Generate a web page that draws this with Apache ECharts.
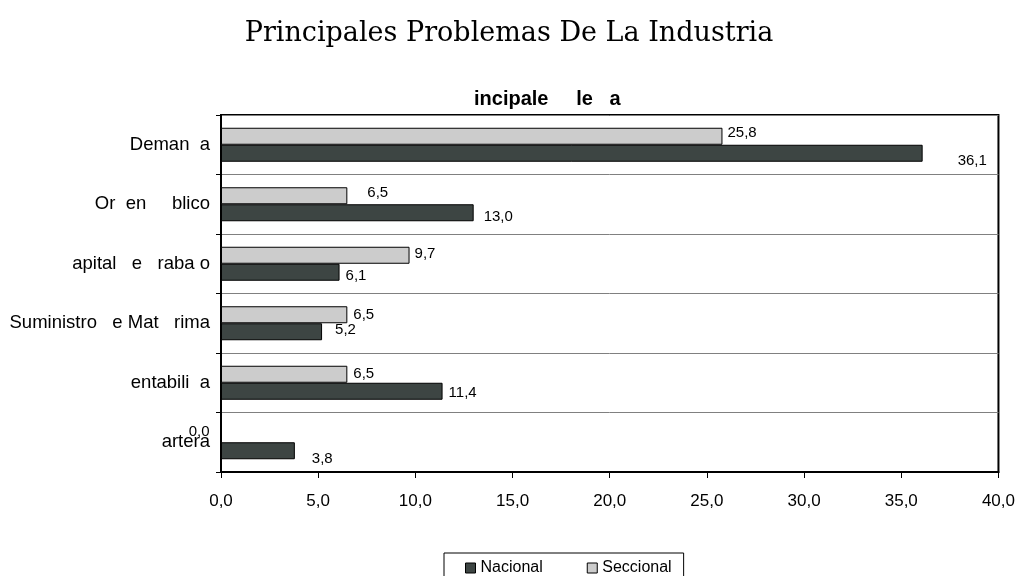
<!DOCTYPE html>
<html>
<head>
<meta charset="utf-8">
<script src="https://cdn.jsdelivr.net/npm/echarts@6/dist/echarts.min.js"></script>
<style>
  html, body { margin: 0; padding: 0; background: #fff; }
  #chart { width: 1018px; height: 576px; }
</style>
</head>
<body>
<div id="chart"></div>
<script>
// Category labels (as printed on the chart)
const categories = ['Deman  a', 'Or  en     blico', 'apital   e   raba o', 'Suministro   e Mat   rima', 'entabili  a', 'artera'];
// Survey shares, percent
const nacional = [36.1, 13.0, 6.1, 5.2, 11.4, 3.8];
const seccional = [25.8, 6.5, 9.7, 6.5, 6.5, 0.0];
const xTicks = { min: 0, max: 40, step: 5 };

// Per-bar nudges for the value labels [dx, dy]
const nacShift = [[30, 8], [5, 4], [1, 4], [8, -2], [1, 2], [12, 8]];
const secShift = [[0, -3], [15, -3], [0, -1], [1, 0], [1, 0], [-6, -2]];

const fmt = v => Number(v).toFixed(1).replace('.', ',');

function buildData(values, shifts) {
  return values.map((v, i) => ({
    value: v,
    label: {
      position: v === 0 ? 'left' : 'right',
      offset: shifts[i]
    }
  }));
}

const labelStyle = {
  show: true,
  distance: 5,
  color: '#000',
  fontFamily: 'Liberation Sans, Arial, sans-serif',
  fontSize: 15,
  formatter: p => fmt(p.value)
};

const chart = echarts.init(document.getElementById('chart'), null, { renderer: 'canvas' });
chart.setOption({
  backgroundColor: '#fff',
  animation: false,
  title: [
    {
      text: 'Principales Problemas De La Industria',
      left: 'center',
      top: 15,
      textStyle: { fontFamily: 'DejaVu Serif, serif', fontSize: 27, fontWeight: 'normal', color: '#000' }
    },
    {
      text: 'incipale     le   a',
      left: 469,
      top: 84,
      textStyle: { fontFamily: 'Liberation Sans, Arial, sans-serif', fontSize: 20, fontWeight: 'bold', color: '#000' }
    }
  ],
  legend: {
    data: ['Nacional', 'Seccional'],
    left: 444,
    top: 553,
    orient: 'horizontal',
    padding: [7, 12, 7, 21],
    itemGap: 44,
    itemWidth: 10,
    itemHeight: 10,
    itemStyle: { borderColor: '#000', borderWidth: 1 },
    icon: 'rect',
    borderColor: '#000',
    borderWidth: 1,
    textStyle: { fontFamily: 'Liberation Sans, Arial, sans-serif', fontSize: 16, color: '#000' }
  },
  grid: {
    left: 221, right: 19, top: 115, bottom: 104,
    show: true, borderColor: '#000', borderWidth: 2, backgroundColor: '#fff'
  },
  xAxis: {
    type: 'value',
    min: xTicks.min,
    max: xTicks.max,
    interval: xTicks.step,
    axisLine: { show: true, lineStyle: { color: '#000', width: 2 } },
    axisTick: { show: true, length: 6, lineStyle: { color: '#000' } },
    splitLine: { show: false },
    axisLabel: {
      margin: 21,
      color: '#000',
      fontFamily: 'Liberation Sans, Arial, sans-serif',
      fontSize: 17,
      formatter: v => fmt(v)
    }
  },
  yAxis: {
    type: 'category',
    inverse: true,
    data: categories,
    axisLine: { show: true, lineStyle: { color: '#000', width: 2 } },
    axisTick: { show: true, length: 5, interval: 0, lineStyle: { color: '#000' } },
    splitLine: { show: true, interval: 0, lineStyle: { color: '#808080', width: 1 } },
    axisLabel: {
      margin: 11,
      interval: 0,
      color: '#000',
      fontFamily: 'Liberation Sans, Arial, sans-serif',
      fontSize: 18.5
    }
  },
  series: [
    {
      name: 'Seccional',
      type: 'bar',
      barWidth: 17,
      barGap: '0%',
      itemStyle: { color: '#cccccc', borderColor: '#000', borderWidth: 1 },
      label: labelStyle,
      data: buildData(seccional, secShift)
    },
    {
      name: 'Nacional',
      type: 'bar',
      barWidth: 17,
      barGap: '0%',
      itemStyle: { color: '#3d4543', borderColor: '#000', borderWidth: 1 },
      label: labelStyle,
      data: buildData(nacional, nacShift)
    }
  ]
});
</script>
</body>
</html>
